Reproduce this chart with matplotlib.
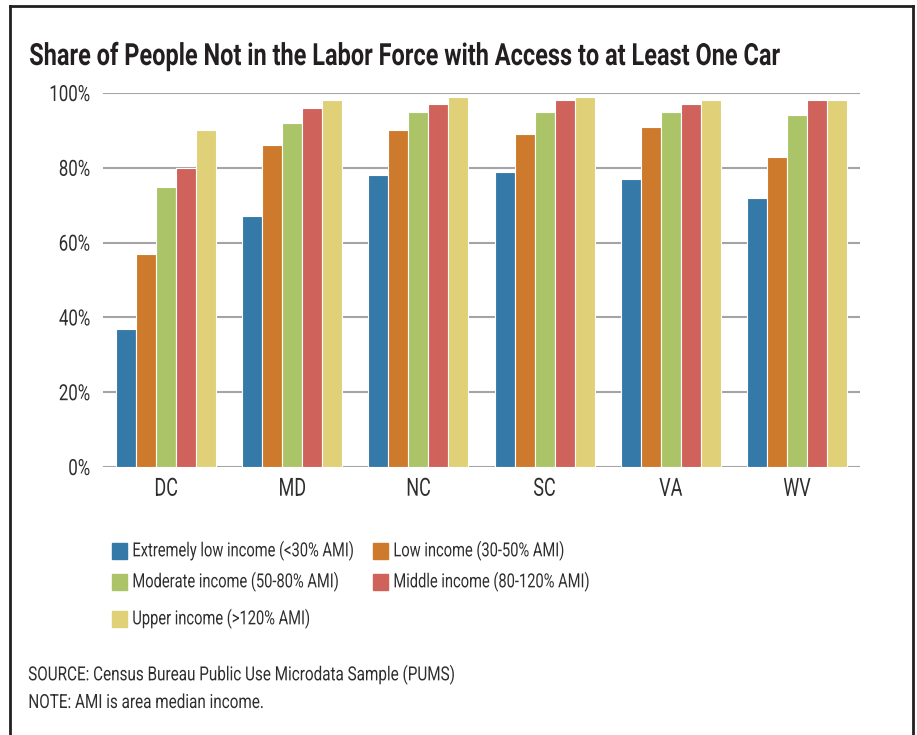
import numpy as np
import matplotlib
matplotlib.use('Agg')
import matplotlib.pyplot as plt
import matplotlib.patches as patches
from matplotlib.lines import Line2D
from matplotlib.ticker import FuncFormatter
from matplotlib.patheffects import AbstractPathEffect
from matplotlib.transforms import Affine2D

W, H = 917, 735
plt.rcParams['font.family'] = ['Roboto', 'DejaVu Sans']

states = ['DC', 'MD', 'NC', 'SC', 'VA', 'WV']
groups = ['Extremely low income (<30% AMI)',
          'Low income (30-50% AMI)',
          'Moderate income (50-80% AMI)',
          'Middle income (80-120% AMI)',
          'Upper income (>120% AMI)']
colors = ['#3579a8', '#ce7a2c', '#abc467', '#cf625b', '#e0d077']

# share (%) with access to at least one car, by income group
extremely_low = [37, 67, 78, 79, 77, 72]
low = [57, 86, 90, 89, 91, 83]
moderate = [75, 92, 95, 95, 95, 94]
middle = [80, 96, 97, 98, 97, 98]
upper = [90, 98, 99, 99, 98, 98]
series = [extremely_low, low, moderate, middle, upper]

yticks = [0, 20, 40, 60, 80, 100]

TEXT = '#2e2e2e'
DARK = '#231f20'


class Narrow(AbstractPathEffect):
    """Squeeze glyphs horizontally (fake condensed face)."""

    def __init__(self, sx=0.8, anchor='left'):
        super().__init__()
        self.sx = sx
        self.anchor = anchor

    def draw_path(self, renderer, gc, tpath, affine, rgbFace=None):
        ext = tpath.get_extents(affine)
        x0 = {'left': ext.x0, 'right': ext.x1,
              'center': 0.5 * (ext.x0 + ext.x1)}[self.anchor]
        squeeze = Affine2D().translate(-x0, 0).scale(self.sx, 1).translate(x0, 0)
        renderer.draw_path(gc, tpath, affine + squeeze, rgbFace)


def px(x, y):
    # pixel position (from top-left) -> figure fraction
    return x / W, 1 - y / H


fig = plt.figure(figsize=(W / 100, H / 100), dpi=100)
ax = fig.add_axes([103 / W, 1 - 467 / H, (860 - 103) / W, (467 - 93) / H])

x = np.arange(len(states))
step = 20 / 126
for i, (vals, c) in enumerate(zip(series, colors)):
    ax.bar(x + (i - 2) * step, vals, width=step, color=c,
           edgecolor='white', linewidth=0.8, zorder=3)

ax.set_xlim(-0.5, len(states) - 0.5)
ax.set_ylim(0, 100)
ax.set_yticks(yticks)
ax.yaxis.set_major_formatter(FuncFormatter(lambda v, p: '%d%%' % v))
ax.set_xticks(x)
ax.set_xticklabels(states)
ax.grid(axis='y', color='#a4a4a4', linewidth=1.5, zorder=0)
ax.tick_params(axis='y', length=0, pad=9, labelsize=16, labelcolor=TEXT)
ax.tick_params(axis='x', length=0, pad=7, labelsize=18, labelcolor=TEXT)
for s in ax.spines.values():
    s.set_visible(False)
for t in ax.get_yticklabels():
    t.set_path_effects([Narrow(0.76, 'right')])
for t in ax.get_xticklabels():
    t.set_path_effects([Narrow(0.72, 'center')])

# title
fig.text(*px(29, 65), 'Share of People Not in the Labor Force with Access to at Least One Car',
         fontsize=22, fontweight='bold', color=DARK, ha='left', va='baseline',
         path_effects=[Narrow(0.77)])

# legend, laid out in rows
legend_pos = [(112, 551), (373, 551), (112, 582), (373, 582), (112, 619)]
for (lx, ly), lab, c in zip(legend_pos, groups, colors):
    fx, fy = px(lx, ly + 8)
    fig.patches.append(patches.Rectangle((fx, fy), 15 / W, 16 / H, color=c,
                                         transform=fig.transFigure, figure=fig))
    fig.text(*px(lx + 20, ly), lab, fontsize=14, color=TEXT,
             ha='left', va='center', path_effects=[Narrow(0.755)])

fig.text(*px(28, 675), 'SOURCE: Census Bureau Public Use Microdata Sample (PUMS)',
         fontsize=14, color=TEXT, ha='left', va='center',
         path_effects=[Narrow(0.785)])
fig.text(*px(28, 703), 'NOTE: AMI is area median income.',
         fontsize=14, color=TEXT, ha='left', va='center',
         path_effects=[Narrow(0.785)])

# frame around the figure (open at the bottom)
border = dict(color=DARK, linewidth=2, solid_capstyle='projecting')
fig.add_artist(Line2D([10 / W, 10 / W], [0, 1 - 6 / H], **border))
fig.add_artist(Line2D([10 / W, 913 / W], [1 - 6 / H, 1 - 6 / H], **border))
fig.add_artist(Line2D([913 / W, 913 / W], [1 - 6 / H, 0], **border))

fig.savefig('out.png', dpi=100)
